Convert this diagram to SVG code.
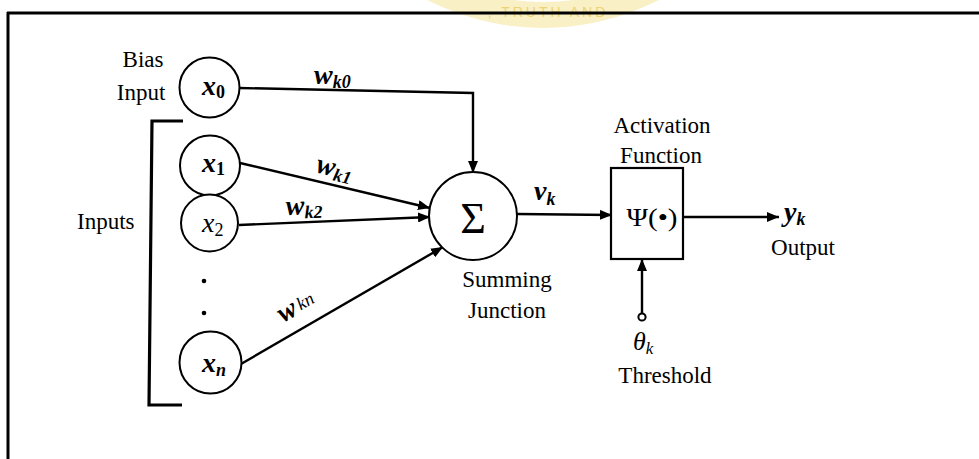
<svg xmlns="http://www.w3.org/2000/svg" width="979" height="459" viewBox="0 0 979 459">
<defs>
<style>
.lbl{font-family:"Liberation Serif","Times New Roman",serif;font-size:23px;fill:#000}
.m{font-family:"Liberation Serif","Times New Roman",serif;font-style:italic;font-weight:bold;fill:#000}
.mi{font-family:"Liberation Serif","Times New Roman",serif;font-style:italic;fill:#000}
.node{fill:#fff;stroke:#000;stroke-width:2}
.conn{fill:none;stroke:#000;stroke-width:2.4}
.frame{fill:none;stroke:#000;stroke-width:3}
</style>
<marker id="arr" viewBox="0 0 12 10" refX="12" refY="5" markerWidth="12" markerHeight="10" markerUnits="userSpaceOnUse" orient="auto">
<path d="M0,0 L12,5 L0,10 Z" fill="#000"/>
</marker>
</defs>
<rect width="979" height="459" fill="#fff"/>
<g id="watermark">
<path d="M289,-226 A254,254 0 0 0 797,-226 L771,-226 A228,228 0 0 1 315,-226 Z" fill="#f9f0c6"/>
<path d="M300,-226 A256,256 0 0 0 786,-226" fill="none" stroke="#e4e0d0" stroke-width="4" opacity="0.7"/>
<text x="548" y="17" text-anchor="middle" font-family="Liberation Sans, Arial, sans-serif" font-size="14" letter-spacing="3" fill="#ecd476">, TRUTH AND</text>
</g>
<g id="frame">
<path class="frame" d="M7,13 L979,13 M8,12 L8,459"/>
</g>
<g id="labels">
<text class="lbl" x="143" y="67" text-anchor="middle">Bias</text>
<text class="lbl" x="141" y="100" text-anchor="middle">Input</text>
<text class="lbl" x="77" y="229">Inputs</text>
<path id="bracket" d="M183,121 L152,121 L149,405 L182,405" fill="none" stroke="#000" stroke-width="3.2"/>
<circle cx="204" cy="281" r="2.3" fill="#000"/>
<circle cx="204" cy="313" r="2.3" fill="#000"/>
</g>
<g id="connectors">
<path class="conn" d="M239,88 L473,93 L473,173" marker-end="url(#arr)"/>
<path class="conn" d="M240,163 L430,208" marker-end="url(#arr)"/>
<path class="conn" d="M239,225 L430,217" marker-end="url(#arr)"/>
<path class="conn" d="M241,364 L443,247" marker-end="url(#arr)"/>
<path class="conn" d="M517,214 L612,215" marker-end="url(#arr)"/>
<path class="conn" d="M684,217 L779,217" marker-end="url(#arr)"/>
<path class="conn" d="M642,313.5 L642,259" marker-end="url(#arr)"/>
<circle cx="642" cy="317" r="3.6" fill="#fff" stroke="#000" stroke-width="2"/>
<text class="m" x="314" y="84" font-size="28">w<tspan font-size="18" dy="4">k0</tspan></text>
<text class="m" transform="translate(315,172) rotate(13.5)" font-size="28">w<tspan font-size="18" dy="4">k1</tspan></text>
<text class="m" transform="translate(286,215) rotate(-2)" font-size="28">w<tspan font-size="18" dy="4">k2</tspan></text>
<text class="m" transform="translate(283,323) rotate(-30)" font-size="28">w<tspan font-size="18" font-weight="normal" dx="3" dy="-2">kn</tspan></text>
<text class="m" x="534" y="200" font-size="28">v<tspan font-size="18" dy="5">k</tspan></text>
<text class="m" x="784" y="221" font-size="28">y<tspan font-size="18" dy="4">k</tspan></text>
<text class="mi" x="633" y="350" font-size="26">θ<tspan font-size="17" dy="4">k</tspan></text>
</g>
<g id="x0">
<circle class="node" cx="209.5" cy="87.5" r="30"/>
<text class="m" x="202" y="95" font-size="28">x<tspan font-size="18" dy="3" font-style="normal">0</tspan></text>
</g>
<g id="x1">
<circle class="node" cx="210" cy="165.5" r="30"/>
<text class="m" x="202" y="172" font-size="28">x<tspan font-size="18" dy="3" font-style="normal">1</tspan></text>
</g>
<g id="x2">
<circle class="node" cx="209.5" cy="223" r="28.5"/>
<text class="mi" x="202" y="232" font-size="28" fill="#333">x<tspan font-size="18" dy="4" font-style="normal">2</tspan></text>
</g>
<g id="xn">
<circle class="node" cx="210.5" cy="362.5" r="31"/>
<text class="m" x="202" y="372" font-size="28">x<tspan font-size="18" dy="4">n</tspan></text>
</g>
<g id="sum">
<circle class="node" cx="473" cy="216" r="44"/>
<text x="473" y="233" text-anchor="middle" font-family="Liberation Serif, Times New Roman, serif" font-size="44">Σ</text>
<text class="lbl" x="507" y="287" text-anchor="middle">Summing</text>
<text class="lbl" x="507" y="318" text-anchor="middle">Junction</text>
</g>
<g id="activation">
<rect x="611" y="168" width="72" height="91" fill="#fff" stroke="#000" stroke-width="2.2"/>
<text x="652" y="226" text-anchor="middle" font-family="Liberation Serif, Times New Roman, serif" font-size="25" textLength="51" lengthAdjust="spacingAndGlyphs">Ψ(•)</text>
<text class="lbl" x="662" y="133" text-anchor="middle">Activation</text>
<text class="lbl" x="661" y="163" text-anchor="middle">Function</text>
</g>
<g id="threshold">
<text class="lbl" x="665" y="383" text-anchor="middle">Threshold</text>
</g>
<g id="output">
<text class="lbl" x="803" y="255" text-anchor="middle">Output</text>
</g>
</svg>
